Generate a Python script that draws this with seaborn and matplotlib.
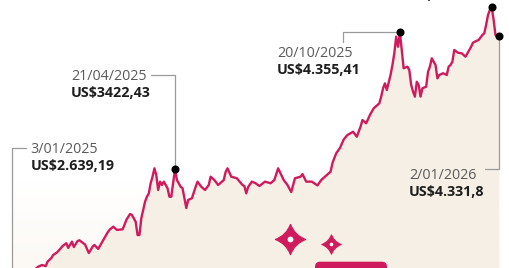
import numpy as np
import pandas as pd
import matplotlib
matplotlib.use("Agg")
import matplotlib.pyplot as plt
import seaborn as sns
from matplotlib.path import Path
from matplotlib.patches import FancyBboxPatch
from matplotlib.transforms import IdentityTransform
from matplotlib.lines import Line2D
from matplotlib.colors import LinearSegmentedColormap

# ---- data (trading-day number since 3/01/2025, gold price in US$) ----
trading_day = [0, 4, 9, 12, 14, 16, 18, 19, 21, 22, 24, 26, 27, 29, 30, 32, 33, 35, 36, 39,
               41, 43, 44, 46, 49, 51, 52, 54, 56, 59, 60, 61, 63, 64, 66, 67, 68, 69, 71, 72,
               73, 74, 75, 76, 77, 78, 79, 80, 81, 83, 84, 85, 87, 88, 90, 91, 92, 93, 94, 96,
               98, 99, 101, 103, 105, 106, 108, 110, 113, 114, 115, 117, 120, 123, 124, 125, 126, 128, 130, 132,
               135, 138, 140, 142, 145, 147, 149, 151, 154, 155, 157, 160, 163, 165, 168, 170, 171, 173, 175, 177,
               179, 182, 184, 186, 187, 189, 191, 193, 195, 196, 197, 198, 199, 200, 202, 203, 204, 205, 206, 207,
               208, 209, 211, 212, 213, 214, 215, 216, 217, 218, 219, 221, 222, 223, 224, 226, 227, 228, 230, 232,
               233, 234, 235, 236, 238, 240, 242, 243, 245, 246, 248, 249, 251, 252, 253, 254, 255, 256, 257, 258,
               259, 260]
price_usd = [2639.19, 2664, 2698, 2732, 2755, 2766, 2759, 2789, 2814, 2835, 2852, 2880, 2896, 2915, 2883, 2926, 2889, 2930, 2935, 2906,
             2848, 2891, 2903, 2876, 2944, 2988, 3006, 3028, 3006, 3010, 3040, 3074, 3115, 3108, 3062, 2971, 2971, 3085, 3199, 3233,
             3256, 3325, 3370, 3427, 3381, 3279, 3336, 3313, 3336, 3291, 3233, 3233, 3422.43, 3347, 3301, 3291, 3222, 3156, 3211, 3222,
             3301, 3336, 3301, 3279, 3313, 3370, 3347, 3313, 3347, 3402, 3427, 3370, 3359, 3313, 3306, 3256, 3299, 3336, 3325, 3306,
             3336, 3325, 3347, 3427, 3347, 3313, 3265, 3359, 3370, 3388, 3336, 3336, 3310, 3347, 3381, 3404, 3463, 3530, 3566, 3624,
             3655, 3677, 3643, 3712, 3757, 3735, 3792, 3837, 3860, 3871, 3917, 3974, 4008, 3962, 4065, 4133, 4213, 4327, 4258, 4355.41,
             4236, 4111, 4122, 4099, 3998, 3951, 3917, 4019, 3997, 3917, 3974, 3985, 4087, 4122, 4179, 4133, 4042, 4065, 4077, 4065,
             4122, 4133, 4156, 4236, 4217, 4213, 4190, 4213, 4258, 4286, 4299, 4304, 4338, 4350, 4407, 4475, 4509, 4527.6, 4441, 4338,
             4327, 4331.8]

label_days = [0, 87, 207, 256, 260]
label_dates = ["3/01/2025", "21/04/2025", "20/10/2025", "26/12/2025", "2/01/2026"]
label_values = ["US$2.639,19", "US$3422,43", "US$4.355,41", "US$4.527,6", "US$4.331,8"]

df = pd.DataFrame({"day": trading_day, "price": price_usd})

LINE = "#cf1b5d"
FILL = "#f6efe5"
GREY = "#9a9a9a"

sns.set_theme(style="white")
plt.rcParams["font.family"] = ["Open Sans", "DejaVu Sans"]

fig = plt.figure(figsize=(5.10, 2.68), dpi=100)
ax = fig.add_axes([0, 0, 1, 1])
ax.set_xlim(-6.4, 265.74)
ax.set_ylim(2745.7, 4577.5)
ax.axis("off")

# soft cream glow at the bottom of the panel (white at top, cream at bottom)
grad = np.linspace(0, 1, 100).reshape(-1, 1)
cmap = LinearSegmentedColormap.from_list("c", ["#ffffff", "#fbf6ef"])
ax.imshow(grad, extent=(0, 260, 2500, 3330), aspect="auto", cmap=cmap, zorder=0,
          origin="upper")

ax.fill_between(df["day"], df["price"], 2500, color=FILL, lw=0, zorder=1)
sns.lineplot(data=df, x="day", y="price", ax=ax, color=LINE, lw=1.7, zorder=3)

# annotation layout: leader (pixel offsets from point, y downward), text dx, date dy, value dy
layout = {
    0: ([(0, 0), (0, -135.4), (14, -135.4)], 18.7, -130.4, -113.4),
    87: ([(0, 0), (0, -94), (-24.3, -94)], -104, -89, -72),
    207: ([(0, 0), (-57.3, 0), (-57.3, 9.5)], -123, 24.7, 41.7),
    256: ([], -126.7, -25, -8),
    260: ([(0, 0), (0, 133), (-14, 133)], -90, 143.3, 160.3),
}
ident = IdentityTransform()
for d, dt, val in zip(label_days, label_dates, label_values):
    p = df.loc[df["day"] == d, "price"].iloc[0]
    X, Y = ax.transData.transform((d, p))
    pts, tdx, ddy, vdy = layout[d]
    if pts:
        ax.add_line(Line2D([X + a for a, b in pts], [Y - b for a, b in pts], color=GREY,
                           lw=0.9, transform=ident, zorder=4))
    ax.plot([d], [p], "o", color="black", ms=4.8, zorder=5)
    ax.text(X + tdx, Y - ddy, dt, transform=ident, fontsize=10.3, color="#5a5a5a",
            va="baseline", ha="left", zorder=6)
    ax.text(X + tdx, Y - vdy, val, transform=ident, fontsize=10.3, color="#1e1e1e",
            fontweight="bold", va="baseline", ha="left", zorder=6)

# decorative sparkles
k = 0.27
verts = [(0, 1), (k, k), (1, 0), (k, -k), (0, -1), (-k, -k), (-1, 0), (-k, k), (0, 1)]
codes = [Path.MOVETO, Path.CURVE3, Path.CURVE3, Path.CURVE3, Path.CURVE3,
         Path.CURVE3, Path.CURVE3, Path.CURVE3, Path.CURVE3]
star = Path(verts, codes)
for (fx, fy), ms, dot in [((0.5686, 0.1082), 22, 4.2), ((0.649, 0.0896), 14, 2.6)]:
    ax.plot([fx], [fy], marker=star, ms=ms, color=LINE, mec=LINE, mew=0.8,
            transform=ax.transAxes, zorder=6)
    ax.plot([fx], [fy], "o", ms=dot, color="white", mew=0, transform=ax.transAxes, zorder=7)

box = FancyBboxPatch((315, -12), 72, 18.3, boxstyle="round,pad=0,rounding_size=5",
                     transform=ident, color=LINE, lw=0, zorder=6)
ax.add_artist(box)

fig.savefig("out.png", dpi=100)
